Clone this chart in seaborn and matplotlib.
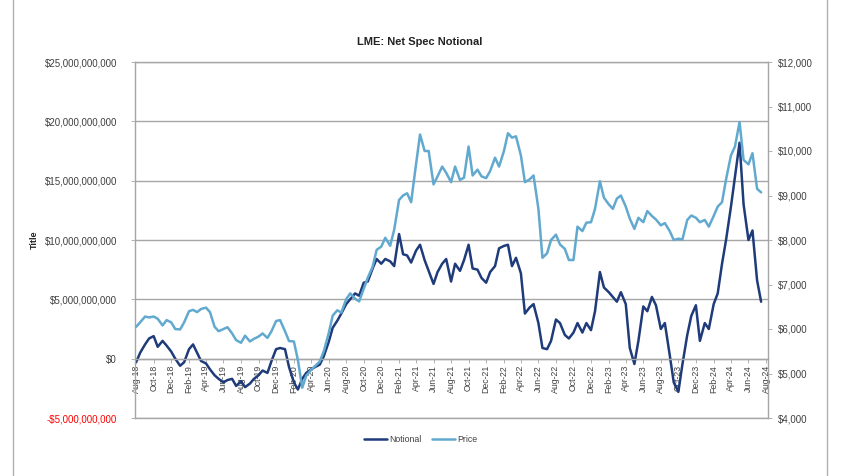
import numpy as np
import pandas as pd
import matplotlib
matplotlib.use("Agg")
import matplotlib.pyplot as plt
from matplotlib.lines import Line2D
from matplotlib.ticker import FixedLocator, FixedFormatter
import seaborn as sns

# ---------------- data (semi-monthly readings) ----------------
start_date = "2018-08-01"
notional_bn = [
    -0.3, 0.5, 1.2, 1.7, 1.9, 1.0, 1.5, 1.1, 0.6, 0.0,
    -0.6, -0.3, 0.8, 1.2, 0.5, -0.2, -0.4, -0.9, -1.4, -1.7,
    -2.0, -1.8, -1.7, -2.3, -1.9, -2.4, -2.1, -1.7, -1.4, -1.0,
    -1.2, -0.2, 0.8, 0.9, 0.8, -0.7, -2.0, -2.6, -1.7, -1.2,
    -0.9, -0.7, -0.5, 0.2, 1.4, 2.6, 3.2, 3.8, 4.6, 5.0,
    5.5, 5.3, 6.4, 6.5, 7.6, 8.4, 8.0, 8.4, 8.2, 7.8,
    10.5, 8.8, 8.7, 8.1, 9.1, 9.6, 8.3, 7.4, 6.3, 7.3,
    8.0, 8.4, 6.5, 8.0, 7.4, 8.3, 9.6, 7.6, 7.5, 6.8,
    6.4, 7.3, 7.8, 9.3, 9.5, 9.6, 7.8, 8.5, 7.2, 3.8,
    4.3, 4.6, 3.0, 0.9, 0.8, 1.5, 3.3, 3.0, 2.0, 1.7,
    2.2, 3.0, 2.2, 3.0, 2.4, 4.0, 7.3, 6.0, 5.6, 5.2,
    4.8, 5.6, 4.6, 0.9, -0.45, 1.5, 4.4, 4.0, 5.2, 4.5,
    2.5, 3.0, 0.3, -2.0, -2.8, -0.5, 2.0, 3.6, 4.5, 1.5,
    3.0, 2.5, 4.6, 5.5, 8.0, 10.0, 12.8, 15.3, 18.2, 13.0,
    10.0, 10.8, 6.6, 4.8,
]
price = [
    6050, 6150, 6280, 6260, 6280, 6230, 6080, 6200, 6150, 6000,
    5990, 6150, 6400, 6430, 6380, 6450, 6480, 6380, 6050, 5950,
    6000, 6040, 5900, 5750, 5690, 5850, 5720, 5780, 5830, 5900,
    5800, 5950, 6180, 6200, 5950, 5730, 5720, 5300, 4680, 4950,
    5080, 5170, 5270, 5500, 5900, 6300, 6420, 6370, 6670, 6800,
    6680, 6620, 6900, 7150, 7400, 7780, 7850, 8050, 7870, 8230,
    8900, 9000, 9050, 8850, 9700, 10370, 10000, 10000, 9250, 9430,
    9650, 9510, 9300, 9650, 9350, 9400, 10100, 9450, 9580, 9430,
    9390, 9550, 9850, 9650, 10000, 10400, 10300, 10330, 9900, 9300,
    9360, 9450, 8700, 7600, 7700, 8000, 8120, 7900, 7800, 7550,
    7550, 8300, 8200, 8390, 8400, 8700, 9320, 8950, 8800, 8700,
    8930, 9000, 8750, 8480, 8250, 8500, 8400, 8650, 8540, 8460,
    8330, 8380, 8200, 8000, 8030, 8009, 8450, 8550, 8500, 8400,
    8450, 8300, 8540, 8750, 8850, 9360, 9900, 10100, 10650, 9800,
    9700, 9950, 9150, 9070,
]
left_ticks = [-5e9, 0, 5e9, 10e9, 15e9, 20e9, 25e9]
right_ticks = [4000, 5000, 6000, 7000, 8000, 9000, 10000, 11000, 12000]
series_names = ["Notional", "Price"]
title_text = "LME: Net Spec Notional"
ylabel_text = "Title"

dates = pd.date_range(start_date, periods=len(price), freq="SMS")
df = pd.DataFrame({"date": dates,
                   "Notional": np.array(notional_bn) * 1e9,
                   "Price": price})

# ---------------- style ----------------
sns.set_theme(style="white")
plt.rcParams["font.family"] = ["Liberation Sans", "DejaVu Sans"]

dark = "#1f3b7a"
light = "#62a9cf"
grid_c = "#a6a6a6"
txt_c = "#404040"

fig = plt.figure(figsize=(8.48, 4.76), dpi=100)
W, H = 848, 476
ax = fig.add_axes([135 / W, 1 - 418 / H, (768 - 135) / W, (418 - 62) / H])
ax2 = ax.twinx()

sns.lineplot(data=df, x="date", y="Notional", ax=ax, color=dark, linewidth=1.8,
             legend=False)
sns.lineplot(data=df, x="date", y="Price", ax=ax2, color=light, linewidth=1.8,
             legend=False)

# x axis
ax.set_xlim(pd.Timestamp("2018-07-28"), pd.Timestamp("2024-08-08"))
xt = pd.date_range("2018-08-01", "2024-08-01", freq="2MS")
xt_num = matplotlib.dates.date2num(xt.to_pydatetime())
ax.xaxis.set_major_locator(FixedLocator(xt_num))
ax.xaxis.set_major_formatter(FixedFormatter([d.strftime("%b-%y") for d in xt]))
ax.xaxis.set_minor_locator(FixedLocator([]))
ax.tick_params(axis="x", which="major", length=3, width=0.6, color=grid_c, pad=1.5,
               direction="out", bottom=True, labelrotation=90, labelsize=6.3,
               labelcolor=txt_c)
ax.set_xlabel("")

# left axis
ax.set_ylim(-5e9, 25e9)
ax.yaxis.set_major_locator(FixedLocator(left_ticks))
ax.yaxis.set_major_formatter(FixedFormatter(
    [("-$" if v < 0 else "$") + f"{abs(v):,.0f}" for v in left_ticks]))
ax.tick_params(axis="y", length=3, width=0.6, color=grid_c, pad=10, left=True,
               labelsize=7, labelcolor=txt_c)
fig.canvas.draw()
for lab, v in zip(ax.get_yticklabels(), left_ticks):
    if v < 0:
        lab.set_color("#ff0000")
ax.set_ylabel(ylabel_text, fontsize=6.5, fontweight="bold", color="#222222",
              labelpad=4)
ax.yaxis.grid(True, color=grid_c, linewidth=1.0)
ax.xaxis.grid(False)

# right axis
ax2.set_ylim(4000, 12000)
ax2.yaxis.set_major_locator(FixedLocator(right_ticks))
ax2.yaxis.set_major_formatter(FixedFormatter([f"${v:,.0f}" for v in right_ticks]))
ax2.tick_params(axis="y", length=3, width=0.6, color=grid_c, pad=4, right=True,
                labelsize=7, labelcolor=txt_c)
ax2.set_ylabel("")
ax2.grid(False)

# spines
for s in ["left", "top"]:
    ax.spines[s].set_color(grid_c)
    ax.spines[s].set_linewidth(1.0)
ax.spines["right"].set_visible(False)
ax.spines["bottom"].set_position(("data", 0))
ax.spines["bottom"].set_color(grid_c)
ax.spines["bottom"].set_linewidth(1.0)
for s in ["left", "top"]:
    ax2.spines[s].set_visible(False)
for s in ["right", "bottom"]:
    ax2.spines[s].set_color(grid_c)
    ax2.spines[s].set_linewidth(1.0)
    ax2.spines[s].set_visible(True)

# title
fig.text(420 / W, 1 - 42 / H, title_text, ha="center", va="center",
         fontsize=8, fontweight="bold", color="#222222")

# legend
handles = [Line2D([0], [0], color=dark, lw=1.8),
           Line2D([0], [0], color=light, lw=1.8)]
fig.legend(handles, series_names, loc="center", bbox_to_anchor=(421 / W, 1 - 440 / H),
           ncol=2, frameon=False, fontsize=6.3, handlelength=2.6,
           handletextpad=0.3, columnspacing=1.2, labelcolor=txt_c)

# chart-area border lines
fig.add_artist(Line2D([13 / W, 13 / W], [0, 1], color="#b0b0b0", lw=1.0))
fig.add_artist(Line2D([827 / W, 827 / W], [0, 1], color="#b0b0b0", lw=1.0))

fig.savefig("out.png", dpi=100)
